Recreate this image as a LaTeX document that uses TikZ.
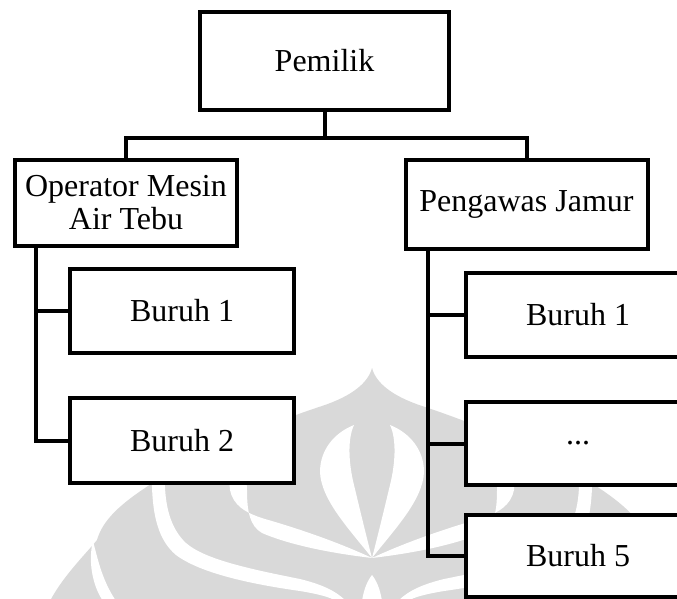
\documentclass[tikz,border=0pt]{standalone}
\usepackage{fontspec}
\setmainfont{Liberation Serif}
\definecolor{wmgray}{RGB}{217,217,217}

% left half of the faint emblem behind the chart (mirrored for the right half)
\newcommand{\makaradome}{%
  \fill[wmgray] (372,368) .. controls (368,383) and (352,396) .. (322,406)
     .. controls (255,428) and (185,460) .. (145,488)
     .. controls (115,508) and (102,523) .. (97,540)
     -- (92,546) .. controls (75,565) and (60,582) .. (50,601)
     -- (372,601) -- cycle;
}
\newcommand{\makaracuts}{%
  % outer band
  \fill[white] (93,541) .. controls (88,560) and (92,585) .. (103,601)
     -- (116,601) .. controls (102,580) and (98,560) .. (93,541) -- cycle;
  % middle band
  \fill[white] (151,460) -- (152,487) .. controls (153,515) and (158,540) .. (176,555)
     .. controls (200,573) and (250,584) .. (300,591)
     .. controls (318,594) and (330,597) .. (336,601)
     -- (346,601) .. controls (335,590) and (320,584) .. (300,579)
     .. controls (255,570) and (205,560) .. (186,543)
     .. controls (172,530) and (166,510) .. (165,487) -- (164,460) -- cycle;
  % inner band
  \fill[white] (227,455) -- (230,490) .. controls (233,505) and (245,513) .. (265,519)
     .. controls (300,529) and (340,543) .. (372,558)
     .. controls (330,553) and (290,545) .. (262,533)
     .. controls (250,526) and (247,512) .. (247,490) -- (245,455) -- cycle;
  % flame lobe
  \fill[white] (354,425) .. controls (334,433) and (320,450) .. (320,472)
     .. controls (321,500) and (350,530) .. (372,558)
     .. controls (366,535) and (360,510) .. (354,485)
     .. controls (349,465) and (347,440) .. (354,425) -- cycle;
  % base arch
  \fill[white] (362,601) .. controls (364,588) and (368,580) .. (372,575)
     -- (372,601) -- cycle;
}

\begin{document}
\begin{tikzpicture}[x=1pt, y=-1pt,
  box/.style={draw=black, fill=white, line width=4pt, rectangle,
    inner sep=0pt, align=center, font=\fontsize{32}{33}\selectfont},
  link/.style={draw=black, line width=4pt, line join=miter}]

\clip (0,0) rectangle (677,599);
\fill[white] (0,0) rectangle (677,599);

% emblem
\makaradome
\begin{scope}[shift={(744,0)}, xscale=-1]
  \makaradome
\end{scope}
\makaracuts
\begin{scope}[shift={(744,0)}, xscale=-1]
  \makaracuts
\end{scope}

% boxes
\node[box, minimum width=249pt, minimum height=98pt] (pem) at (324.5,61) {Pemilik};
\node[box, minimum width=222pt, minimum height=86pt] (op) at (126,203) {Operator Mesin\\Air Tebu};
\node[box, minimum width=242pt, minimum height=89pt] (peng) at (526.5,204.5) {Pengawas Jamur};
\node[box, minimum width=224pt, minimum height=84pt] (lb1) at (182,311) {Buruh 1};
\node[box, minimum width=224pt, minimum height=85pt] (lb2) at (182,440.5) {Buruh 2};
\node[box, minimum width=224pt, minimum height=84pt] (rb1) at (578,315) {Buruh 1};
\node[box, minimum width=224pt, minimum height=83pt] (rdots) at (578,443.5) {...};
\node[box, minimum width=224pt, minimum height=82pt] (rb5) at (578,556) {Buruh 5};

% top-level branching
\path (pem.south) ++(0,26.5) coordinate (bus);
\draw[link] (pem.south) -- (bus);
\draw[link] (op.north) |- (bus) -| (peng.north);

% left spine
\path (op.south west) ++(23,0) coordinate (ls);
\draw[link] (ls) |- (lb2.west);
\draw[link] (ls |- lb1.west) -- (lb1.west);

% right spine
\path (peng.south west) ++(24,0) coordinate (rs);
\draw[link] (rs) |- (rb5.west);
\draw[link] (rs |- rb1.west) -- (rb1.west);
\draw[link] (rs |- rdots.west) -- (rdots.west);
\end{tikzpicture}
\end{document}
